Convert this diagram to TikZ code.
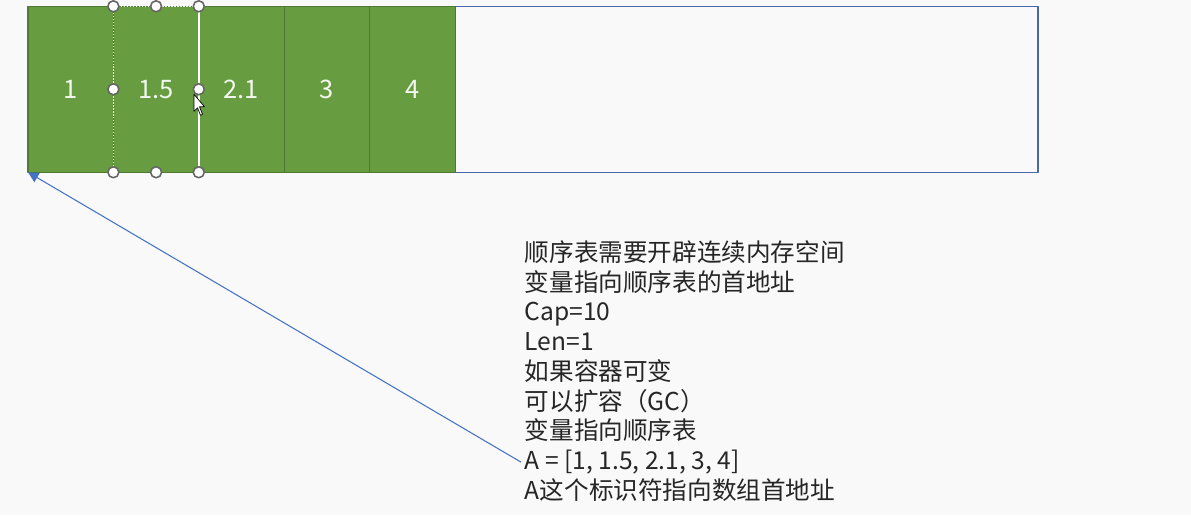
\documentclass[tikz,border=0pt]{standalone}
\usepackage{fontspec}
\newfontfamily\cjk{Noto Sans CJK SC}
\usetikzlibrary{positioning,arrows.meta}
\definecolor{cellgreen}{HTML}{679D40}
\definecolor{cellline}{HTML}{4E7A30}
\definecolor{boxblue}{HTML}{4A68AE}
\definecolor{arrowblue}{HTML}{4472C4}
\definecolor{bggrey}{HTML}{F9F9F9}
\tikzset{
  cell/.style={draw=cellline,fill=cellgreen,minimum width=1.708cm,minimum height=3.32cm,
    inner sep=0pt,outer sep=0pt,text=white!92!cellgreen,font=\cjk\fontsize{14.5}{16}\selectfont},
  handle/.style={circle,draw=black!60,fill=white,line width=0.9pt,minimum size=0.22cm,inner sep=0pt},
  note/.style={anchor=base west,inner sep=2pt,text=black!85,font=\cjk\fontsize{14}{16}\selectfont},
}
\begin{document}
\begin{tikzpicture}[x=0.02cm,y=-0.02cm,line join=round]
  \fill[bggrey] (0,0) rectangle (1191,515);
  % capacity of the table
  \draw[boxblue,line width=0.6pt] (28,6) rectangle (1038,172);
  % stored elements
  \node[cell,anchor=north west] (c1) at (28,6) {1};
  \node[cell,right=0pt of c1] (c2) {1.5};
  \node[cell,right=0pt of c2] (c3) {2.1};
  \node[cell,right=0pt of c3] (c4) {3};
  \node[cell,right=0pt of c4] (c5) {4};
  % selected cell
  \draw[white,densely dotted,line width=0.7pt] (c2.south west) -- (c2.north west) -- (c2.north east);
  \draw[white,line width=1.3pt] (c2.north east) -- (c2.south east);
  \foreach \a in {north west,north,north east,west,east,south west,south,south east}
    \node[handle] (h-\a) at (c2.\a) {};
  \filldraw[fill=white,draw=black,line width=0.4pt]
    (194,94) -- (194,111) -- (197.5,107.5) -- (200.5,115) -- (202.5,114) -- (199.5,106.5) -- (204.5,106.5) -- cycle;
  % notes
  \foreach \t [count=\i] in {顺序表需要开辟连续内存空间,变量指向顺序表的首地址,Cap=10,Len=1,
      如果容器可变,可以扩容（GC）,变量指向顺序表,{A = [1, 1.5, 2.1, 3, 4]},A这个标识符指向数组首地址}
    \node[note] (l\i) at (521,{261+29.75*(\i-1)}) {\t};
  \draw[arrowblue,line width=0.6pt,-{Triangle[length=6pt,width=6pt]}] (l8.west) -- (c1.south west);
\end{tikzpicture}
\end{document}
